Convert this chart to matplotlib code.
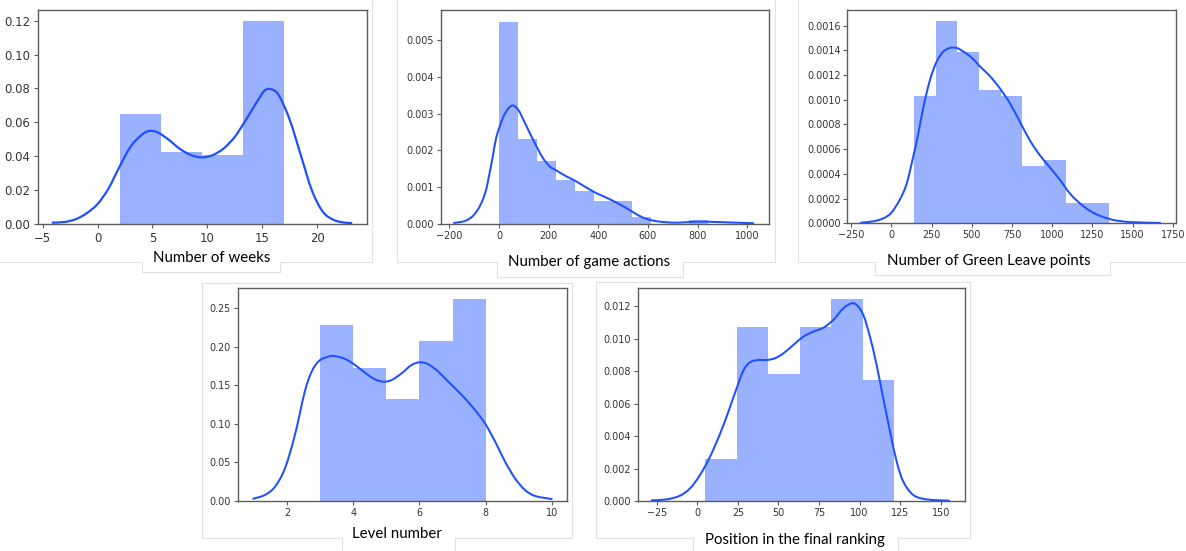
import matplotlib
matplotlib.use("Agg")
import matplotlib.pyplot as plt
from matplotlib.lines import Line2D
from matplotlib.path import Path
from matplotlib.patches import PathPatch
import numpy as np

W, H, DPI = 1186, 551, 100
BLUE = "#023eff"
LINE_BLUE = "#1e50ff"
FRAME = "#e2e2e2"

# ---- Number of weeks ----
weeks_edges = [2.0, 5.75, 9.5, 13.25, 17.0]
weeks_density = [0.065, 0.0425, 0.041, 0.120]
weeks_kde_x = [-4.1, -3, -2, -1, 0, 1, 2, 3, 4, 4.7, 5.5, 6.5, 7.5, 8.5, 9.5, 10.5,
               11.5, 12.5, 13.5, 14.5, 15.2, 15.8, 16.5, 17.5, 18.5, 19.5, 20.5,
               21.5, 22.5, 23.1]
weeks_kde_y = [0.0008, 0.0012, 0.0028, 0.0063, 0.0118, 0.021, 0.0338, 0.0456, 0.0525,
               0.0549, 0.054, 0.0496, 0.0443, 0.0407, 0.0393, 0.0407, 0.0447, 0.0515,
               0.0614, 0.072, 0.0787, 0.0795, 0.076, 0.0614, 0.0407, 0.020, 0.0073,
               0.0024, 0.0008, 0.0006]

# ---- Number of game actions ----
actions_edges = [0, 76.4, 152.7, 229, 305.5, 381.8, 458, 534.5, 610.9, 687, 763.6, 840]
actions_density = [0.0055, 0.00232, 0.0017, 0.0012, 0.0009, 0.00062, 0.00062,
                   0.0002, 0.0, 0.0, 0.0001]
actions_kde_x = [-181, -130, -90, -56, -30, -10, 17, 38, 57, 78, 98, 125, 152, 178,
                 205, 232, 270, 313, 380, 447, 514, 555, 595, 648, 716, 783, 850,
                 917, 1024]
actions_kde_y = [0.00003, 0.0001, 0.00034, 0.00083, 0.00165, 0.00237, 0.0029, 0.00314,
                 0.00322, 0.0031, 0.00284, 0.00246, 0.0021, 0.00178, 0.00156, 0.00145,
                 0.0013, 0.00115, 0.00088, 0.00067, 0.00043, 0.00026, 0.000136,
                 0.000063, 0.000036, 0.00006, 0.00006, 0.000045, 0.00002]

# ---- Number of Green Leave points ----
points_edges = [140, 275, 410, 545, 680, 815, 950, 1085, 1220, 1355]
points_density = [0.00103, 0.00164, 0.001384, 0.00108, 0.00103, 0.000464,
                  0.000513, 0.000162, 0.000162]
points_kde_x = [-189, -112, -50, 0, 52, 95, 136, 168, 199, 240, 282, 323, 365, 406,
                448, 500, 551, 614, 676, 738, 800, 862, 924, 987, 1049, 1111, 1174,
                1236, 1298, 1381, 1485, 1672]
points_kde_y = [0.000005, 0.000016, 0.00004, 0.000086, 0.00019, 0.00032, 0.00054,
                0.00073, 0.00094, 0.00116, 0.00131, 0.00139, 0.00142, 0.00142,
                0.00139, 0.00134, 0.00127, 0.00119, 0.00109, 0.00097, 0.00082,
                0.00067, 0.00055, 0.00045, 0.00035, 0.00024, 0.00016, 0.0001,
                0.00006, 0.000027, 0.00001, 0.000003]

# ---- Level number ----
level_edges = [3, 4, 5, 6, 7, 8]
level_density = [0.2284, 0.1721, 0.1319, 0.208, 0.262]
level_kde_x = [0.97, 1.32, 1.63, 1.93, 2.23, 2.53, 2.74, 2.96, 3.24, 3.44, 3.75, 4.05,
               4.35, 4.65, 4.91, 5.16, 5.46, 5.76, 6.02, 6.27, 6.57, 6.87, 7.28, 7.68,
               7.98, 8.29, 8.59, 8.89, 9.19, 9.5, 10.0]
level_kde_y = [0.003, 0.0078, 0.0186, 0.0424, 0.0856, 0.1419, 0.168, 0.1817, 0.1873,
               0.1881, 0.1843, 0.1765, 0.1665, 0.1579, 0.1548, 0.157, 0.1657, 0.1765,
               0.18, 0.1773, 0.1678, 0.1548, 0.1375, 0.118, 0.1008, 0.077, 0.051,
               0.0294, 0.0143, 0.0065, 0.0026]

# ---- Position in the final ranking ----
rank_edges = [5, 24.4, 43.8, 63.2, 82.6, 102, 121.4]
rank_density = [0.00257, 0.0107, 0.00783, 0.0107, 0.01245, 0.00746]
rank_kde_x = [-28.1, -18.9, -10.7, -4.5, 1.6, 7.8, 14, 19.1, 24.2, 28.4, 32.5, 37.6,
              42.7, 47.9, 53, 59.2, 65.3, 71.5, 77.7, 83.8, 90, 95.1, 98.2, 102.3,
              106.4, 110.5, 114.6, 118.8, 122.9, 127, 133.1, 141.4, 155.1]
rank_kde_y = [0.00004, 0.0001, 0.00033, 0.00078, 0.0016, 0.00273, 0.00415, 0.0055,
              0.00695, 0.00805, 0.00855, 0.00869, 0.00869, 0.0088, 0.0091, 0.00962,
              0.01013, 0.01044, 0.01068, 0.01116, 0.01188, 0.01218, 0.01208, 0.01147,
              0.01013, 0.00838, 0.00633, 0.00427, 0.00242, 0.00119, 0.00037, 0.0001,
              0.00002]

fig = plt.figure(figsize=(W / DPI, H / DPI), dpi=DPI)
fig.patch.set_facecolor("white")


def px_axes(left, top, right, bottom):
    return fig.add_axes([left / W, 1 - bottom / H, (right - left) / W, (bottom - top) / H])


def smooth_path(xs, ys):
    """Cubic Bezier path passing through every (x, y) pair (Catmull-Rom tangents)."""
    p = np.column_stack([xs, ys]).astype(float)
    ext = np.vstack([p[0], p, p[-1]])
    verts = [p[0]]
    codes = [Path.MOVETO]
    for i in range(len(p) - 1):
        a, b, c, d = ext[i], ext[i + 1], ext[i + 2], ext[i + 3]
        verts += [b + (c - a) / 6.0, c - (d - b) / 6.0, c]
        codes += [Path.CURVE4] * 3
    return Path(np.array(verts), codes)


def panel(box, edges, density, kx, ky, xlim, ylim, xticks, yticks, yfmt,
          fs=6.9, tick_len=2.8, pad=2.0, lw=1.45):
    ax = px_axes(*box)
    edges = np.asarray(edges, dtype=float)
    ax.bar(edges[:-1], density, width=np.diff(edges), align="edge",
           color=BLUE, alpha=0.4, linewidth=0)
    ax.add_patch(PathPatch(smooth_path(kx, ky), fill=False, edgecolor=LINE_BLUE,
                           lw=lw, capstyle="round", joinstyle="round"))
    ax.set_xlim(*xlim)
    ax.set_ylim(*ylim)
    ax.set_xticks(xticks)
    ax.set_yticks(yticks)
    ax.set_yticklabels([yfmt % v for v in yticks])
    for s in ax.spines.values():
        s.set_color("#5c5c5c")
        s.set_linewidth(1.0)
    ax.tick_params(direction="out", length=tick_len, width=0.8, color="#5c5c5c",
                   labelsize=fs, labelcolor="#333333", pad=pad)
    return ax


panel((37.7, 10, 366.7, 224), weeks_edges, weeks_density, weeks_kde_x, weeks_kde_y,
      (-5.45, 24.5), (0, 0.1263), [-5, 0, 5, 10, 15, 20],
      [0, 0.02, 0.04, 0.06, 0.08, 0.10, 0.12], "%.2f",
      fs=8.4, tick_len=3.2, pad=2.4, lw=1.6)
panel((440.7, 10, 769, 224), actions_edges, actions_density, actions_kde_x, actions_kde_y,
      (-234.6, 1087.4), (0, 0.005815), [-200, 0, 200, 400, 600, 800, 1000],
      [0, 0.001, 0.002, 0.003, 0.004, 0.005], "%.3f")
panel((847.3, 10, 1175.7, 223.3), points_edges, points_density, points_kde_x, points_kde_y,
      (-274, 1768), (0, 0.001727), [-250, 0, 250, 500, 750, 1000, 1250, 1500, 1750],
      [0, 0.0002, 0.0004, 0.0006, 0.0008, 0.0010, 0.0012, 0.0014, 0.0016], "%.4f")
panel((237.7, 288.3, 566.7, 501), level_edges, level_density, level_kde_x, level_kde_y,
      (0.5, 10.454), (0, 0.276), [2, 4, 6, 8, 10],
      [0, 0.05, 0.10, 0.15, 0.20, 0.25], "%.2f")
panel((637.7, 288.3, 965, 501), rank_edges, rank_density, rank_kde_x, rank_kde_y,
      (-36.8, 165), (0, 0.01311), [-25, 0, 25, 50, 75, 100, 125, 150],
      [0, 0.002, 0.004, 0.006, 0.008, 0.010, 0.012], "%.3f")

# light frames around each figure panel and its caption box
frame_segments = [
    # weeks
    ((372, 0), (372, 262)), ((0, 262), (142, 262)), ((280, 262), (372, 262)),
    ((142, 262), (142, 272)), ((142, 272), (280, 272)), ((280, 272), (280, 262)),
    # game actions
    ((397, 0), (397, 262)), ((775, 0), (775, 262)),
    ((397, 262), (497, 262)), ((683, 262), (775, 262)),
    ((497, 262), (497, 277)), ((497, 277), (683, 277)), ((683, 277), (683, 262)),
    # green leave points
    ((798, 0), (798, 262)), ((798, 262), (875, 262)), ((1110, 262), (1186, 262)),
    ((875, 262), (875, 275)), ((875, 275), (1110, 275)), ((1110, 275), (1110, 262)),
    # level number
    ((202, 283), (572, 283)), ((202, 283), (202, 538)), ((572, 283), (572, 538)),
    ((202, 538), (342, 538)), ((455, 538), (572, 538)),
    ((342, 538), (342, 551)), ((455, 538), (455, 551)),
    # final ranking
    ((596, 282), (970, 282)), ((596, 282), (596, 538)), ((970, 282), (970, 538)),
    ((596, 538), (693, 538)), ((898, 538), (970, 538)),
    ((693, 538), (693, 551)), ((898, 538), (898, 551)),
]
for (x0, y0), (x1, y1) in frame_segments:
    fig.add_artist(Line2D([x0 / W, x1 / W], [1 - y0 / H, 1 - y1 / H],
                          transform=fig.transFigure, color=FRAME, lw=0.8))

captions = [
    ("Number of weeks", 211.3, 262.3),
    ("Number of game actions", 589.2, 266.0),
    ("Number of Green Leave points", 988.7, 265.0),
    ("Level number", 397.3, 538.3),
    ("Position in the final ranking", 795.0, 543.7),
]
for text, cx, base in captions:
    fig.text(cx / W, 1 - base / H, text, ha="center", va="baseline",
             fontsize=10.8, family="Lato", color="black")

fig.savefig("out.png", dpi=DPI, facecolor="white")
